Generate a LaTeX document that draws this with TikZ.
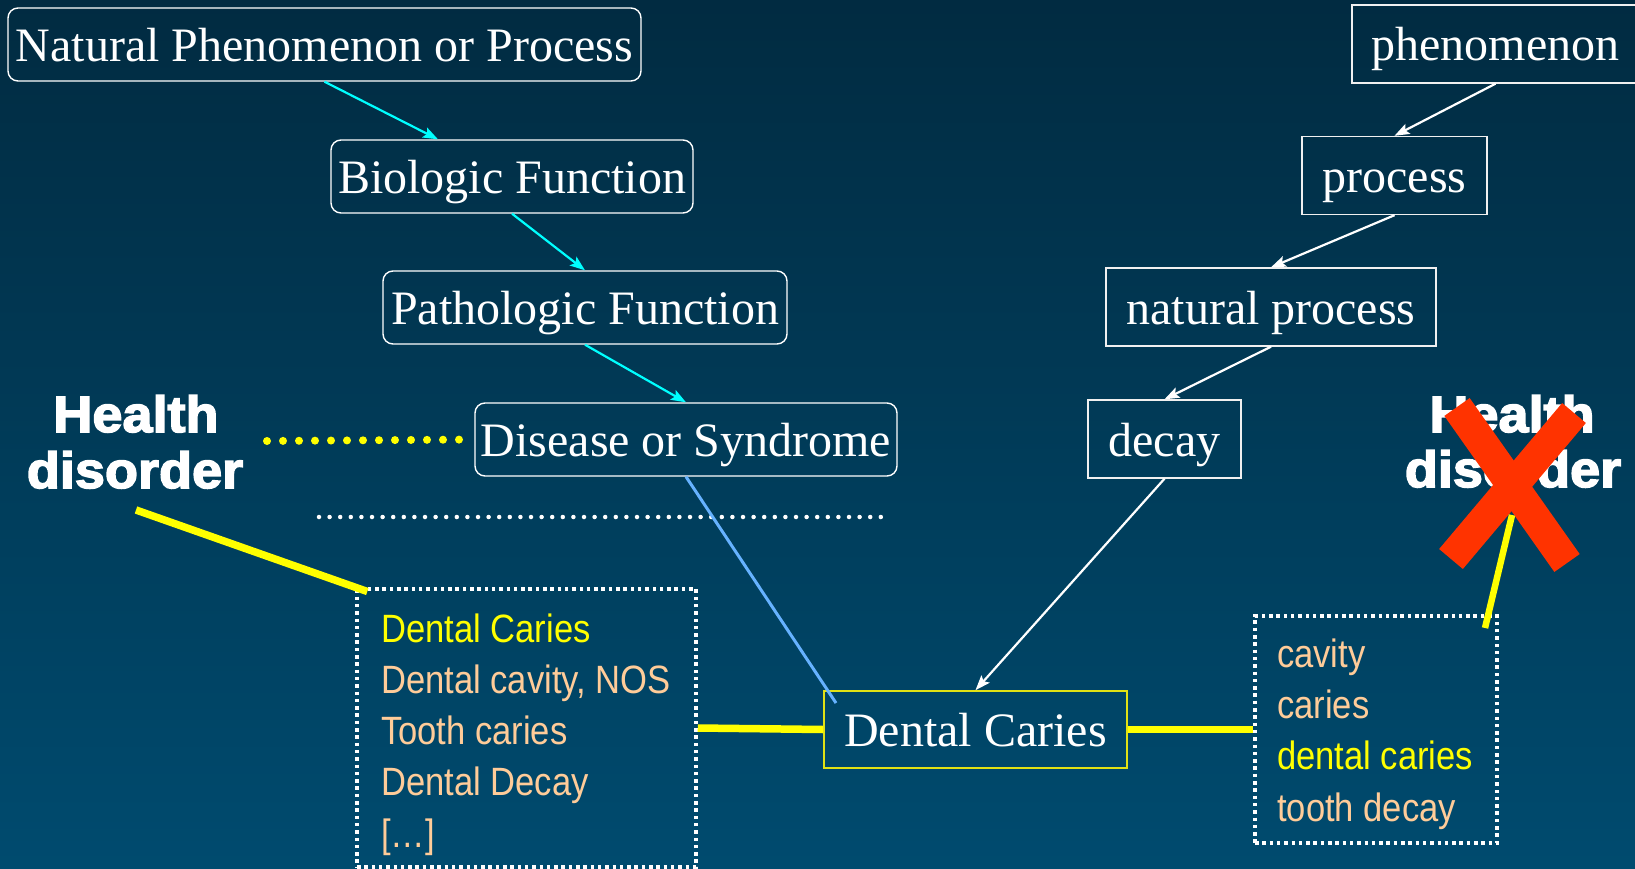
\documentclass[tikz,border=0pt]{standalone}
\usepackage{fontspec}
\setmainfont{Liberation Serif}
\newfontfamily\listfont{Liberation Sans}[FakeStretch=0.875]
\newfontfamily\tagfont{Liberation Sans Bold}[FakeStretch=1.06,FakeBold=3]
\usetikzlibrary{arrows.meta,calc}

\definecolor{bgtop}{RGB}{1,43,65}
\definecolor{bgbot}{RGB}{0,75,111}
\definecolor{peach}{RGB}{255,204,153}
\definecolor{skyline}{RGB}{102,178,255}
\definecolor{crossred}{RGB}{255,51,0}
\definecolor{boxyellow}{RGB}{225,225,20}
\definecolor{isacyan}{RGB}{0,255,255}
\definecolor{markyellow}{RGB}{255,255,0}

\begin{document}
\begin{tikzpicture}[x=1pt,y=-1pt,
  concept/.style={draw=white,line width=1.4pt,rounded corners=10pt,text=white,
    font=\fontsize{48}{56}\selectfont,inner sep=2pt,minimum height=73pt,
    text height=34pt,text depth=0pt},
  term/.style={draw=white!88!gray,line width=1.4pt,text=white,
    font=\fontsize{48}{56}\selectfont,inner sep=2pt,minimum height=78pt,
    text height=34pt,text depth=0pt},
  cyanarrow/.style={draw=isacyan,line width=2.2pt,
    -{Stealth[length=15pt,width=11pt,inset=3pt]}},
  whitearrow/.style={draw=white,line width=2.2pt,
    -{Stealth[length=15pt,width=11pt,inset=3pt]}},
  listbox/.style={draw=white,line width=3.5pt,dash pattern=on 3.5pt off 3.8pt},
  listtext/.style={anchor=base west,inner sep=0pt,
    font=\listfont\fontsize{39.5}{48}\selectfont},
  tagtext/.style={anchor=base,inner sep=0pt,text=white,
    font=\tagfont\fontsize{51}{56}\selectfont},
  yellowlink/.style={draw=markyellow,line width=7.5pt},
  crossarm/.style={draw=crossred,line width=31pt}]

% background
\useasboundingbox (0,0) rectangle (1635,869);
\shade[top color=bgtop,bottom color=bgbot] (0,0) rectangle (1635,869);
\clip (0,0) rectangle (1635,869);

% left hierarchy (rounded boxes)
\node[concept,minimum width=633pt] (npp) at (324.5,44.5) {Natural Phenomenon or Process};
\node[concept,minimum width=362pt] (bf) at (512,176.5) {Biologic Function};
\node[concept,minimum width=404pt] (pf) at (585,307.5) {Pathologic Function};
\node[concept,minimum width=422pt] (ds) at (686,439.5) {Disease or Syndrome};

% right hierarchy (square boxes)
\node[term,minimum width=287pt] (phen) at (1495.5,44) {phenomenon};
\node[term,minimum width=185pt] (proc) at (1394.5,175.5) {process};
\node[term,minimum width=330pt] (natp) at (1271,307) {natural process};
\node[term,minimum width=153pt] (decay) at (1164.5,439) {decay};

% central concept
\node[draw=boxyellow,line width=1.6pt,text=white,font=\fontsize{48}{56}\selectfont,
  inner sep=2pt,minimum width=303pt,minimum height=77pt,
  text height=34pt,text depth=0pt] (dc) at (975.5,729.5) {Dental Caries};

% synonym lists
\node[listbox,minimum width=339pt,minimum height=278pt] (lbox) at (526.5,728) {};
\node[listbox,minimum width=242pt,minimum height=227pt] (rbox) at (1376,729.5) {};

\node[listtext,text=markyellow] (l1) at (381,642) {Dental Caries};
\node[listtext,text=peach] (l2) at (381,693) {Dental cavity, NOS};
\node[listtext,text=peach] (l3) at (381,744.5) {Tooth caries};
\node[listtext,text=peach] (l4) at (381,795.5) {Dental Decay};
\node[listtext,text=peach] (l5) at (381,847) {[\dots]};

\node[listtext,text=peach] (r1) at (1277,667) {cavity};
\node[listtext,text=peach] (r2) at (1277,718) {caries};
\node[listtext,text=markyellow] (r3) at (1277,769.5) {dental caries};
\node[listtext,text=peach] (r4) at (1277,821.5) {tooth decay};

% "Health disorder" tags
\node[tagtext] (hdl1) at (136,432) {Health};
\node[tagtext] (hdl2) at (135,488) {disorder};
\node[tagtext] (hdr1) at (1512,432) {Health};
\node[tagtext] (hdr2) at (1513,487) {disorder};

% is-a arrows
\draw[cyanarrow] (npp.south) -- ([xshift=-74pt]bf.north);
\draw[cyanarrow] (bf.south) -- (pf.north);
\draw[cyanarrow] (pf.south) -- (ds.north);

\draw[whitearrow] (phen.south) -- (proc.north);
\draw[whitearrow] (proc.south) -- (natp.north);
\draw[whitearrow] (natp.south) -- (decay.north);
\draw[whitearrow] (decay.south) -- (dc.north);

% dotted separator and mapping lines
\coordinate (sepL) at (319,517);
\coordinate (sepR) at (887,517);
\draw[white,line width=4.5pt,line cap=round,dash pattern=on 0pt off 10.6pt] (sepL) -- (sepR);

\coordinate (dotstart) at (267,441);
\draw[markyellow,line width=8pt,line cap=round,dash pattern=on 0pt off 16pt] (dotstart) -- (ds.west);

\coordinate (blueend) at (836,703);
\draw[skyline,line width=3pt] (ds.south) -- (blueend);

\coordinate (ltag) at (136,510);
\draw[yellowlink] (ltag) -- ($(ltag)!1.055!(lbox.north west)$);
\draw[yellowlink] (lbox.east) -- (dc.west);
\draw[yellowlink] (dc.east) -- (rbox.west);

% crossed-out tag
\coordinate (xa1) at (1457,407);
\coordinate (xa2) at (1567,563);
\coordinate (xb1) at (1574,413);
\coordinate (xb2) at (1451,559);
\draw[crossarm] (xa1) -- (xa2);
\draw[crossarm] (xb1) -- (xb2);

\coordinate (rtagtop) at (1512,515);
\coordinate (rtagfoot) at (1485,628);
\draw[markyellow,line width=6.5pt] (rtagfoot) -- (rtagtop);
\end{tikzpicture}
\end{document}
